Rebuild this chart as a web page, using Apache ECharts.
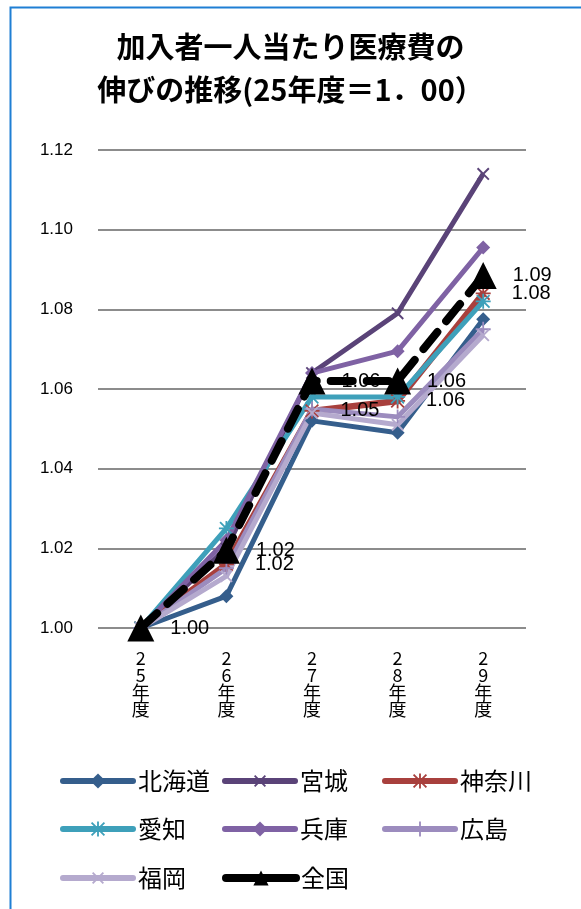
<!DOCTYPE html>
<html><head><meta charset="utf-8">
<script src="https://cdn.jsdelivr.net/npm/echarts@6/dist/echarts.min.js"></script>
<style>html,body{margin:0;padding:0;background:#fff}#c{width:581px;height:909px}</style>
</head><body><div id="c"></div>
<script>
var categories = ['25年度','26年度','27年度','28年度','29年度'];
var hokkaido = [1.000, 1.008, 1.052, 1.049, 1.0775];
var miyagi   = [1.000, 1.020, 1.064, 1.079, 1.114];
var kanagawa = [1.000, 1.016, 1.0545, 1.057, 1.084];
var aichi    = [1.000, 1.025, 1.058, 1.058, 1.082];
var hyogo    = [1.000, 1.022, 1.064, 1.0695, 1.0955];
var hiroshima= [1.000, 1.015, 1.055, 1.053, 1.075];
var fukuoka  = [1.000, 1.013, 1.054, 1.051, 1.0735];
var zenkoku  = [1.000, 1.0195, 1.062, 1.062, 1.0885];
var yTicks = [1.00, 1.02, 1.04, 1.06, 1.08, 1.10, 1.12];

var FONT = '"Noto Sans CJK JP", "Noto Sans", sans-serif';
var NUMFONT = '"Liberation Sans", Arial, sans-serif';
var PLUS = 'path://M4.4,0H5.6V4.4H10V5.6H5.6V10H4.4V5.6H0V4.4H4.4Z';
var STAR = 'path://M4.4,0H5.6V4.4H10V5.6H5.6V10H4.4V5.6H0V4.4H4.4Z M1.2,0.35L5,4.15L8.8,0.35L9.65,1.2L5.85,5L9.65,8.8L8.8,9.65L5,5.85L1.2,9.65L0.35,8.8L4.15,5L0.35,1.2Z';

function mk(name, data, color, symbol, size, rotate, width, extra) {
  var s = {
    name: name, type: 'line', data: data,
    symbol: symbol, symbolSize: size, symbolRotate: rotate || 0,
    showSymbol: true,
    lineStyle: {color: color, width: width},
    itemStyle: {color: color},
    z: 2
  };
  if (extra) for (var k in extra) s[k] = extra[k];
  return s;
}
function lbl(dist, skipFirst) {
  return {show: true, position: 'right', distance: dist, color: '#000', fontSize: 20, fontFamily: NUMFONT,
    formatter: function(p){ return (skipFirst && p.dataIndex === 0) ? '' : p.value.toFixed(2); }};
}

var series = [
  mk('北海道', hokkaido, '#355E8C', 'diamond', 14, 0, 5),
  mk('宮城', miyagi, '#5A4378', PLUS, 16, 45, 5),
  mk('神奈川', kanagawa, '#A8403D', STAR, 15, 0, 6.5, {label: lbl(21, true)}),
  mk('愛知', aichi, '#3EA0BA', STAR, 15, 0, 5),
  mk('兵庫', hyogo, '#7F62A4', 'diamond', 14, 0, 5),
  mk('広島', hiroshima, '#9C8CBE', PLUS, 15, 0, 5),
  mk('福岡', fukuoka, '#B5AACE', PLUS, 16, 45, 5),
  mk('全国', zenkoku, '#000000', 'triangle', 27, 0, 8, {
    lineStyle: {color: '#000', width: 8, type: [22, 14], cap: 'round'},
    label: lbl(16, false), z: 5})
];

var legends = [];
var legPos = [
  ['北海道', 55, 764], ['宮城', 217, 764], ['神奈川', 377, 764],
  ['愛知', 55, 812], ['兵庫', 217, 812], ['広島', 377, 812],
  ['福岡', 55, 861], ['全国', 217, 861]
];
legPos.forEach(function(l){
  var item = {name: l[0]};
  if (l[0] === '全国') item.lineStyle = {type: 'solid', width: 8};
  legends.push({data: [item], left: l[1], top: l[2], itemWidth: 70, itemHeight: 19, itemGap: 6,
    lineStyle: {width: 6, cap: 'round'},
    textStyle: {fontSize: 24, color: '#000', fontFamily: FONT}, selectedMode: false});
});

var chart = echarts.init(document.getElementById('c'), null, {renderer: 'canvas'});
chart.setOption({
  animation: false,
  backgroundColor: '#fff',
  title: {text: '加入者一人当たり医療費の\n伸びの推移(25年度＝1．00）', left: 'center', top: 20,
    textStyle: {fontSize: 29, fontWeight: 'bold', color: '#000', fontFamily: FONT, lineHeight: 43}},
  graphic: [{type: 'rect', shape: {x: 10.5, y: 7.5, width: 620, height: 960},
    style: {fill: 'none', stroke: '#1F7FD4', lineWidth: 2}, silent: true}],
  legend: legends,
  grid: {left: 98, right: 55, top: 150, bottom: 281, containLabel: false},
  xAxis: {type: 'category', data: categories, boundaryGap: true,
    axisLine: {show: false}, axisTick: {show: false},
    axisLabel: {interval: 0, margin: 22, color: '#000', fontSize: 18, fontFamily: FONT, lineHeight: 17,
      formatter: function(v){ return v.split('').join('\n'); }}},
  yAxis: {type: 'value', min: 1.00, max: 1.12, interval: 0.02,
    axisLine: {show: false}, axisTick: {show: false},
    splitLine: {lineStyle: {color: '#8c8c8c', width: 2}},
    axisLabel: {margin: 25, color: '#000', fontSize: 17, fontFamily: NUMFONT,
      formatter: function(v){ return v.toFixed(2); }}},
  series: series
});
</script></body></html>
